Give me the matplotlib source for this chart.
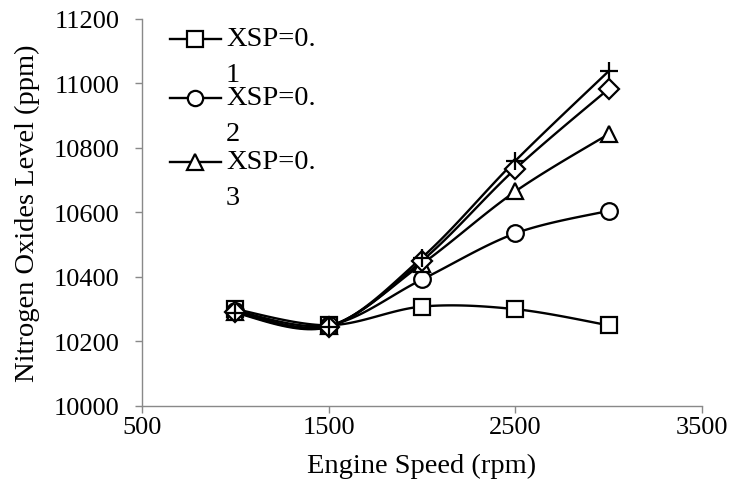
import numpy as np
import matplotlib.pyplot as plt
from matplotlib.lines import Line2D

# data
speed = [1000, 1500, 2000, 2500, 3000]
nox_01 = [10300, 10250, 10308, 10300, 10250]
nox_02 = [10295, 10250, 10392, 10535, 10605]
nox_03 = [10292, 10248, 10440, 10665, 10843]
nox_04 = [10290, 10246, 10450, 10735, 10983]
nox_05 = [10288, 10245, 10460, 10760, 11038]

series = [nox_01, nox_02, nox_03, nox_04, nox_05]
markers = ['s', 'o', '^', 'D', '+']
legend_first = ['XSP=0.', 'XSP=0.', 'XSP=0.']
legend_second = ['1', '2', '3']


def smooth(x, y, n=30):
    # Excel-like smoothed line: cubic bezier with catmull-rom style controls
    x = np.asarray(x, float)
    y = np.asarray(y, float)
    px = np.concatenate([[x[0]], x, [x[-1]]])
    py = np.concatenate([[y[0]], y, [y[-1]]])
    xs, ys = [], []
    t = np.linspace(0, 1, n)
    for i in range(1, len(px) - 2):
        p0 = np.array([px[i], py[i]])
        p3 = np.array([px[i + 1], py[i + 1]])
        p1 = p0 + (np.array([px[i + 1], py[i + 1]]) - np.array([px[i - 1], py[i - 1]])) / 6
        p2 = p3 - (np.array([px[i + 2], py[i + 2]]) - np.array([px[i], py[i]])) / 6
        b = ((1 - t) ** 3)[:, None] * p0 + (3 * (1 - t) ** 2 * t)[:, None] * p1 \
            + (3 * (1 - t) * t ** 2)[:, None] * p2 + (t ** 3)[:, None] * p3
        xs.extend(b[:, 0])
        ys.extend(b[:, 1])
    return xs, ys


plt.rcParams['font.family'] = ['Liberation Serif', 'DejaVu Serif']

fig = plt.figure(figsize=(7.32, 4.85), dpi=100)
ax = fig.add_axes([0.194, 0.161, 0.765, 0.798])

for vals, m in zip(series, markers):
    sx, sy = smooth(speed, vals)
    ax.plot(sx, sy, color='black', lw=1.7, zorder=2)
    ms = 13 if m == '+' else (10 if m == 'D' else 12)
    ax.plot(speed, vals, linestyle='none', marker=m, ms=ms, mfc='white',
            mec='black', mew=1.6, zorder=3)

ax.set_xlim(500, 3500)
ax.set_ylim(10000, 11200)
ax.set_xticks([500, 1500, 2500, 3500])
ax.set_yticks(np.arange(10000, 11201, 200))
ax.tick_params(labelsize=19, direction='out', length=5, color='#898989', width=1)
ax.tick_params(axis='y', pad=11)
ax.tick_params(axis='x', pad=2)
for s in ['top', 'right']:
    ax.spines[s].set_visible(False)
for s in ['left', 'bottom']:
    ax.spines[s].set_color('#898989')
    ax.spines[s].set_linewidth(1)
ax.set_xlabel('Engine Speed (rpm)', fontsize=20.5, labelpad=11)
ax.set_ylabel('Nitrogen Oxides Level (ppm)', fontsize=20.5, labelpad=10)

# legend drawn by hand, Excel style with wrapped labels
row_y = [0.949, 0.796, 0.631]
for yy, m, l1, l2 in zip(row_y, markers[:3], legend_first, legend_second):
    ax.add_line(Line2D([0.05, 0.141], [yy, yy], transform=ax.transAxes,
                       color='black', lw=1.7, clip_on=False))
    ax.add_line(Line2D([0.0955], [yy], transform=ax.transAxes, marker=m, ms=11,
                       mfc='white', mec='black', mew=1.6, linestyle='none', clip_on=False))
    ax.text(0.15, yy, l1, transform=ax.transAxes, fontsize=20.5, va='center', ha='left')
    ax.text(0.15, yy - 0.093, l2, transform=ax.transAxes, fontsize=20.5, va='center', ha='left')

fig.savefig('out.png', dpi=100)
